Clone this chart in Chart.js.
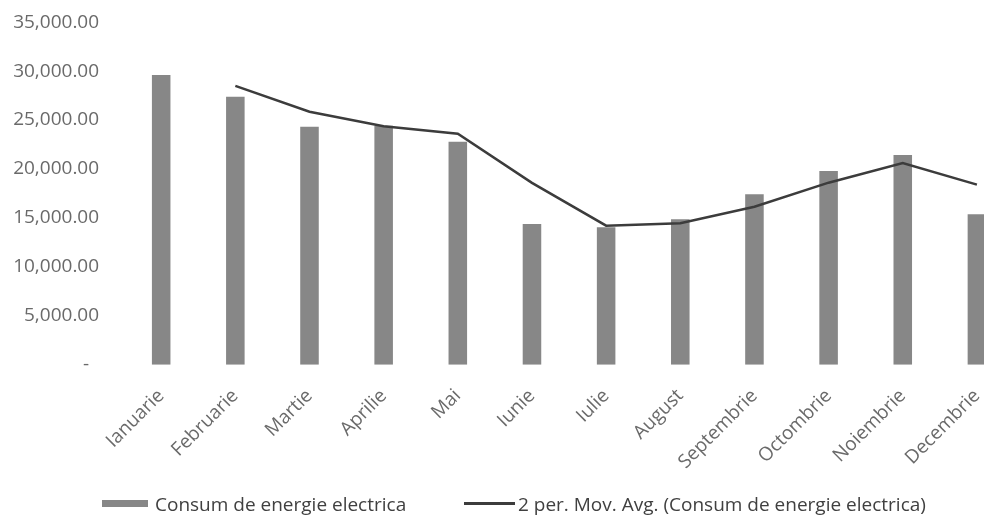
<!DOCTYPE html>
<html>
<head>
<meta charset="utf-8">
<script src="https://cdn.jsdelivr.net/npm/chart.js@4/dist/chart.umd.min.js"></script>
<style>
  html, body { margin: 0; padding: 0; background: #fff; overflow: hidden; width: 984px; height: 520px; }
  #wrap { position: absolute; left: 0; top: 0; width: 1014px; height: 520px; }
  #legend { position: absolute; left: 0; top: 0; width: 984px; height: 520px; pointer-events: none;
            font-family: 'Open Sans', sans-serif; font-size: 19px; color: #404040; }
  .item { position: absolute; top: 491px; height: 25px; display: flex; align-items: center; white-space: nowrap; }
  .swatch { flex: none; }
</style>
</head>
<body>
<div id="wrap"><canvas id="c"></canvas></div>
<div id="legend"></div>
<script>
// Monthly electricity consumption
const months = ['Ianuarie', 'Februarie', 'Martie', 'Aprilie', 'Mai', 'Iunie',
                'Iulie', 'August', 'Septembrie', 'Octombrie', 'Noiembrie', 'Decembrie'];
const consum = [29600, 27390, 24320, 24420, 22790, 14380,
                14040, 14860, 17410, 19790, 21430, 15370];
// 2-period moving average trendline (no value for the first month)
const movAvg = [null, 28495, 25855, 24370, 23605, 18585,
                14210, 14450, 16135, 18600, 20610, 18400];
const yTickValues = [0, 5000, 10000, 15000, 20000, 25000, 30000, 35000];

const barLabel = 'Consum de energie electrica';
const lineLabel = '2 per. Mov. Avg. (Consum de energie electrica)';
const barColor = '#878787';
const lineColor = '#3c3c3c';
const tickColor = '#6a6a6a';
const fontFamily = "'Open Sans', sans-serif";

function fmt(v) {
  if (v === 0) return '-  ';
  return v.toLocaleString('en-US', { minimumFractionDigits: 2, maximumFractionDigits: 2 });
}

const chart = new Chart(document.getElementById('c'), {
  data: {
    labels: months,
    datasets: [
      {
        type: 'line',
        label: lineLabel,
        data: movAvg,
        borderColor: lineColor,
        backgroundColor: lineColor,
        borderWidth: 2.5,
        pointRadius: 0,
        tension: 0,
        order: 1
      },
      {
        type: 'bar',
        label: barLabel,
        data: consum,
        backgroundColor: barColor,
        borderWidth: 0,
        barPercentage: 0.25,
        categoryPercentage: 1,
        order: 2
      }
    ]
  },
  options: {
    responsive: true,
    maintainAspectRatio: false,
    animation: false,
    layout: { padding: { top: 22.2, left: 0, right: 0, bottom: 0 } },
    plugins: { legend: { display: false }, tooltip: { enabled: false } },
    scales: {
      x: {
        grid: { display: false, drawTicks: false },
        border: { display: false },
        ticks: {
          autoSkip: false,
          minRotation: 45,
          maxRotation: 45,
          padding: 20,
          color: tickColor,
          font: { family: fontFamily, size: 19 }
        },
        afterFit(scale) {
          scale.height = 155.3;
          scale.paddingLeft = 0;
          scale.paddingRight = 0;
        }
      },
      y: {
        min: 0,
        max: 35000,
        grid: { display: false, drawTicks: false },
        border: { display: false },
        afterBuildTicks(scale) {
          scale.ticks = yTickValues.map(v => ({ value: v }));
        },
        ticks: {
          padding: 25,
          color: tickColor,
          font: { family: fontFamily, size: 19 },
          callback: v => fmt(v)
        },
        afterFit(scale) {
          scale.width = 124.1;
          scale.paddingTop = 0;
          scale.paddingBottom = 0;
        }
      }
    }
  }
});

// Legend below the plot, built from the datasets
const legend = document.getElementById('legend');
const legendItems = [
  { ds: chart.data.datasets[1], left: 102, w: 46, h: 7, gap: 7 },
  { ds: chart.data.datasets[0], left: 464, w: 51, h: 2.5, gap: 3 }
];
legendItems.forEach(it => {
  const item = document.createElement('div');
  item.className = 'item';
  item.style.left = it.left + 'px';
  const sw = document.createElement('div');
  sw.className = 'swatch';
  sw.style.width = it.w + 'px';
  sw.style.height = it.h + 'px';
  sw.style.marginRight = it.gap + 'px';
  sw.style.background = it.ds.type === 'bar' ? it.ds.backgroundColor : it.ds.borderColor;
  const txt = document.createElement('span');
  txt.textContent = it.ds.label;
  item.appendChild(sw);
  item.appendChild(txt);
  legend.appendChild(item);
});
</script>
</body>
</html>
